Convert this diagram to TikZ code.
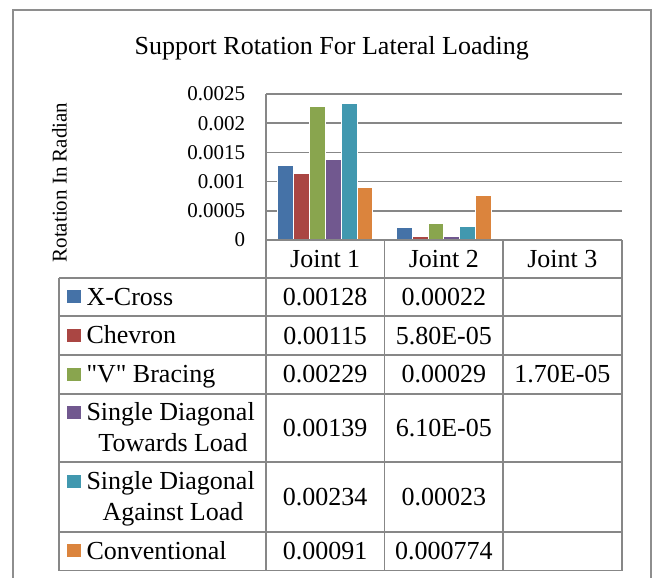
\documentclass[tikz,border=0pt]{standalone}
\usepackage{fontspec}
\setmainfont{Liberation Serif}[Ligatures=TeXOff]
\definecolor{cA}{HTML}{4572A7}
\definecolor{cB}{HTML}{AA4643}
\definecolor{cC}{HTML}{89A54E}
\definecolor{cD}{HTML}{71588F}
\definecolor{cE}{HTML}{4198AF}
\definecolor{cF}{HTML}{DB843D}
\definecolor{cGrid}{HTML}{878787}
\definecolor{cFrame}{HTML}{8E8E8E}
\tikzset{
  bigtxt/.style={font=\fontsize{26}{30}\selectfont, inner sep=0pt, outer sep=0pt},
  ticktxt/.style={font=\fontsize{21}{24}\selectfont, inner sep=0pt, outer sep=0pt},
  gridline/.style={draw=cGrid, line width=1.5pt},
  tabline/.style={draw=cGrid, line width=1.7pt},
  barbox/.style={draw=white, line width=0.5pt},
  swatch/.style={minimum width=13.5pt, minimum height=13pt, inner sep=0pt, outer sep=0pt, anchor=south west}
}
\begin{document}
\begin{tikzpicture}[x=1pt,y=-1pt]
\useasboundingbox (0,0) rectangle (657,578);
% outer frame
\draw[draw=cFrame, line width=2pt] (13,600) -- (13,10) -- (651,10) -- (651,600);
% title
\node[bigtxt, anchor=base] (title) at (331.7,54.3) {Support Rotation For Lateral Loading};
% grid lines
\foreach \yy in {94,123.2,152.4,181.6,210.8} {\draw[gridline] (266,\yy) -- (621.7,\yy);}
% tick labels
\node[ticktxt, anchor=east] (t0) at (245,240) {0};
\node[ticktxt, anchor=east] (t1) at (245,210.8) {0.0005};
\node[ticktxt, anchor=east] (t2) at (245,181.6) {0.001};
\node[ticktxt, anchor=east] (t3) at (245,152.4) {0.0015};
\node[ticktxt, anchor=east] (t4) at (245,123.2) {0.002};
\node[ticktxt, anchor=east] (t5) at (245,94) {0.0025};
\node[ticktxt, rotate=90] (ylab) at (59.5,182.5) {Rotation In Radian};
% bars joint 1
\foreach \i/\h/\c in {0/74.75/cA,1/67.16/cB,2/133.74/cC,3/81.18/cD,4/136.66/cE,5/53.14/cF}
  {\fill[\c] (277.3+\i*15.9,240) rectangle ++(15.9,-\h);
   \draw[barbox] (277.3+\i*15.9,240) rectangle ++(15.9,-\h);}
% bars joint 2
\foreach \i/\h/\c in {0/12.85/cA,1/3.39/cB,2/16.94/cC,3/3.56/cD,4/13.43/cE,5/45.20/cF}
  {\fill[\c] (396+\i*15.9,240) rectangle ++(15.9,-\h);
   \draw[barbox] (396+\i*15.9,240) rectangle ++(15.9,-\h);}
% joint 3 (tiny)
\fill[cC] (514.6+2*15.9,240) rectangle ++(15.9,-0.99);
% table lines
\draw[tabline] (266,94) -- (266,570.5);
\draw[tabline] (266,240) -- (621.7,240);
\foreach \xx in {384.5,503,621.7} {\draw[tabline] (\xx,240) -- (\xx,570.5);}
\draw[tabline] (59,277.7) -- (59,570.5);
\foreach \yy in {277.7,316.3,355,394,462.3,531.7,570.5} {\draw[tabline] (59,\yy) -- (621.7,\yy);}
% header
\node[bigtxt, anchor=base] (j1) at (325.2,267.3) {Joint 1};
\node[bigtxt, anchor=base] (j2) at (443.8,267.3) {Joint 2};
\node[bigtxt, anchor=base] (j3) at (562.4,267.3) {Joint 3};
% legend
\node[swatch, fill=cA] (sA) at (67.3,303.3) {};
\node[bigtxt, anchor=base west] (lA) at (86.5,305) {X-Cross};
\node[swatch, fill=cB] (sB) at (67.3,342) {};
\node[bigtxt, anchor=base west] (lB) at (86.5,343.7) {Chevron};
\node[swatch, fill=cC] (sC) at (67.3,380.8) {};
\node[bigtxt, anchor=base west] (lC) at (86.5,382.5) {"V" Bracing};
\node[swatch, fill=cD] (sD) at (67.3,418.8) {};
\node[bigtxt, anchor=base west] (lD1) at (86.5,420.5) {Single Diagonal};
\node[bigtxt, anchor=base] (lD2) at (173,451.2) {Towards Load};
\node[swatch, fill=cE] (sE) at (67.3,487.6) {};
\node[bigtxt, anchor=base west] (lE1) at (86.5,489.3) {Single Diagonal};
\node[bigtxt, anchor=base] (lE2) at (173,520) {Against Load};
\node[swatch, fill=cF] (sF) at (67.3,557.4) {};
\node[bigtxt, anchor=base west] (lF) at (86.5,559.1) {Conventional};
% values
\node[bigtxt, anchor=base] (a1) at (325.2,305.3) {0.00128};
\node[bigtxt, anchor=base] (a2) at (443.8,305.3) {0.00022};
\node[bigtxt, anchor=base] (b1) at (325.2,344) {0.00115};
\node[bigtxt, anchor=base] (b2) at (443.8,344) {5.80E-05};
\node[bigtxt, anchor=base] (c1) at (325.2,382.8) {0.00229};
\node[bigtxt, anchor=base] (c2) at (443.8,382.8) {0.00029};
\node[bigtxt, anchor=base] (c3) at (562.4,382.8) {1.70E-05};
\node[bigtxt, anchor=base] (d1) at (325.2,436.6) {0.00139};
\node[bigtxt, anchor=base] (d2) at (443.8,436.6) {6.10E-05};
\node[bigtxt, anchor=base] (e1) at (325.2,505.4) {0.00234};
\node[bigtxt, anchor=base] (e2) at (443.8,505.4) {0.00023};
\node[bigtxt, anchor=base] (f1) at (325.2,559.5) {0.00091};
\node[bigtxt, anchor=base] (f2) at (443.8,559.5) {0.000774};
\end{tikzpicture}
\end{document}
